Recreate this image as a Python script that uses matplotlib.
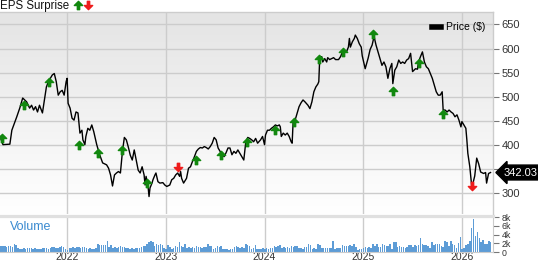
import matplotlib
matplotlib.use('Agg')
import matplotlib.pyplot as plt
import numpy as np
from matplotlib.path import Path
from matplotlib.lines import Line2D
from matplotlib.colors import LinearSegmentedColormap
from matplotlib.transforms import blended_transform_factory

plt.rcParams['font.family'] = ['Liberation Sans', 'DejaVu Sans']

# price (decimal year, $)
price_t = [2021.32, 2021.35, 2021.42, 2021.44, 2021.49, 2021.52, 2021.55, 2021.57, 2021.59, 2021.62,
           2021.64, 2021.66, 2021.68, 2021.70, 2021.72, 2021.75, 2021.77, 2021.79, 2021.81, 2021.83,
           2021.85, 2021.87, 2021.89, 2021.91, 2021.93, 2021.95, 2021.97, 2021.99, 2022.00, 2022.01,
           2022.03, 2022.05, 2022.07, 2022.09, 2022.11, 2022.13, 2022.15, 2022.16, 2022.18, 2022.19,
           2022.21, 2022.23, 2022.25, 2022.27, 2022.30, 2022.33, 2022.36, 2022.40, 2022.42, 2022.44,
           2022.46, 2022.48, 2022.50, 2022.52, 2022.54, 2022.56, 2022.58, 2022.60, 2022.62, 2022.64,
           2022.66, 2022.68, 2022.70, 2022.72, 2022.74, 2022.76, 2022.78, 2022.79, 2022.80, 2022.82,
           2022.83, 2022.84, 2022.86, 2022.87, 2022.89, 2022.90, 2022.92, 2022.94, 2022.97, 2022.99,
           2023.01, 2023.04, 2023.06, 2023.08, 2023.10, 2023.12, 2023.14, 2023.15, 2023.16, 2023.18,
           2023.21, 2023.23, 2023.25, 2023.27, 2023.29, 2023.31, 2023.33, 2023.35, 2023.37, 2023.39,
           2023.41, 2023.43, 2023.45, 2023.47, 2023.49, 2023.51, 2023.53, 2023.55, 2023.57, 2023.59,
           2023.61, 2023.63, 2023.65, 2023.67, 2023.69, 2023.71, 2023.73, 2023.75, 2023.77, 2023.79,
           2023.81, 2023.83, 2023.85, 2023.87, 2023.89, 2023.91, 2023.93, 2023.96, 2023.98, 2024.00,
           2024.01, 2024.03, 2024.05, 2024.07, 2024.09, 2024.11, 2024.13, 2024.15, 2024.16, 2024.17,
           2024.19, 2024.21, 2024.23, 2024.25, 2024.27, 2024.28, 2024.29, 2024.31, 2024.33, 2024.35,
           2024.37, 2024.39, 2024.41, 2024.44, 2024.46, 2024.48, 2024.50, 2024.52, 2024.54, 2024.55,
           2024.56, 2024.58, 2024.59, 2024.61, 2024.63, 2024.64, 2024.66, 2024.68, 2024.70, 2024.72,
           2024.75, 2024.77, 2024.79, 2024.81, 2024.83, 2024.85, 2024.86, 2024.87, 2024.89, 2024.91,
           2024.92, 2024.94, 2024.96, 2024.98, 2024.99, 2025.02, 2025.05, 2025.07, 2025.09, 2025.11,
           2025.13, 2025.15, 2025.17, 2025.19, 2025.21, 2025.23, 2025.25, 2025.27, 2025.29, 2025.30,
           2025.32, 2025.34, 2025.36, 2025.38, 2025.40, 2025.42, 2025.44, 2025.46, 2025.48, 2025.50,
           2025.53, 2025.55, 2025.56, 2025.58, 2025.60, 2025.62, 2025.64, 2025.66, 2025.68, 2025.70,
           2025.72, 2025.74, 2025.76, 2025.78, 2025.80, 2025.81, 2025.83, 2025.85, 2025.87, 2025.89,
           2025.91, 2025.93, 2025.95, 2025.97, 2025.99, 2026.00, 2026.02, 2026.04, 2026.05, 2026.06,
           2026.08, 2026.09, 2026.10, 2026.11, 2026.13, 2026.15, 2026.17, 2026.19, 2026.22, 2026.24,
           2026.25, 2026.27, 2026.29]
price_v = [417, 400, 401, 430, 458, 476, 497, 493, 489, 476,
           482, 472, 479, 468, 482, 466, 493, 520, 531, 538,
           545, 548, 531, 503, 510, 513, 503, 531, 538, 486,
           476, 455, 451, 468, 466, 424, 430, 410, 400, 417,
           434, 430, 441, 427, 400, 379, 362, 358, 351, 337,
           314, 337, 341, 344, 341, 385, 415, 410, 395, 378,
           368, 389, 368, 347, 341, 354, 337, 316, 334, 313,
           292, 310, 320, 327, 337, 341, 323, 320, 321, 316,
           313, 316, 327, 330, 337, 341, 334, 344, 330, 320,
           330, 351, 354, 365, 375, 386, 391, 394, 393, 396,
           394, 391, 396, 403, 415, 410, 393, 386, 382, 375,
           383, 393, 393, 379, 386, 382, 389, 382, 375, 368,
           405, 415, 413, 410, 406, 413, 403, 410, 417, 400,
           420, 430, 430, 434, 437, 441, 439, 441, 437, 417,
           424, 420, 424, 417, 406, 403, 448, 451, 465, 479,
           487, 493, 489, 482, 475, 489, 510, 520, 526, 531,
           583, 583, 572, 579, 572, 581, 577, 579, 581, 577,
           577, 583, 593, 595, 593, 603, 621, 603, 614, 621,
           628, 621, 610, 603, 585, 558, 580, 598, 607, 625,
           607, 593, 579, 565, 572, 562, 538, 558, 569, 527,
           555, 562, 576, 569, 572, 569, 576, 579, 590, 552,
           558, 557, 572, 583, 593, 572, 562, 558, 548, 538,
           524, 510, 503, 503, 510, 472, 472, 468, 472, 468,
           465, 458, 462, 451, 437, 448, 441, 434, 410, 382,
           354, 334, 312, 318, 335, 372, 360, 343, 340, 342,
           320, 340, 342.03]
last_price = 342.03

# EPS surprise arrows (decimal year, price level)
beat_t = [2021.34, 2021.56, 2021.82, 2022.12, 2022.31, 2022.56, 2022.81, 2023.31, 2023.56,
          2023.82, 2024.11, 2024.30, 2024.55, 2024.80, 2025.10, 2025.30, 2025.57, 2025.81]
beat_v = [414, 482, 531, 399, 383, 389, 320, 368, 379,
          406, 430, 448, 579, 593, 630, 512, 570, 464]
miss_t = [2023.12, 2026.10]
miss_v = [354, 314]

# weekly volume (thousands), first week starting 2021.33
vol_start = 2021.33
volume_k = [1.3, 1.4, 1.3, 1.2, 1.3, 1.4, 1.2, 1.8, 1.5,
            0.9, 0.8, 0.8, 0.9, 0.8, 0.9, 1.0, 0.9, 0.8, 0.9, 0.7,
            0.6, 0.8, 0.9, 1.0, 0.9, 0.8, 0.9,
            1.1, 1.2, 0.9, 1.0, 1.2,
            1.3, 1.1, 0.6, 0.5, 1.0,
            1.0, 1.1, 1.0, 1.2, 1.1, 0.9, 1.1, 1.2, 1.0,
            0.8, 0.9, 0.8, 0.7, 0.9,
            1.8, 1.6, 1.7, 1.5, 1.6, 2.5,
            1.2, 1.7, 1.0,
            1.1, 0.9, 1.2, 1.3, 1.1, 1.2,
            0.9, 1.0, 0.8, 0.9, 0.7, 1.0, 0.9, 1.0, 1.1, 1.3,
            1.4, 1.9, 2.2, 2.5, 2.2, 1.4,
            1.8, 1.7, 1.8, 1.6, 0.9,
            0.8, 1.5, 1.2, 0.8,
            0.9, 1.3, 1.2, 2.3,
            1.3, 1.2, 1.9, 1.0,
            1.1, 1.0, 1.2, 1.0, 1.3, 1.1, 1.2, 1.0, 1.1, 1.2,
            1.8, 1.3, 1.4, 0.8, 0.9,
            1.3, 1.2, 1.4, 0.7, 0.6,
            0.6, 0.5, 0.7, 0.6, 1.2,
            1.3, 1.2, 1.0, 1.1, 1.0, 1.9, 1.5, 1.3,
            0.8, 0.9, 1.5, 0.8, 0.7, 0.8, 0.9, 0.8,
            0.9, 0.8, 1.0, 0.9, 1.3, 1.2,
            1.3, 1.5, 1.0, 1.1, 1.0, 1.2, 1.0, 1.3,
            1.2, 1.4, 1.3, 0.9,
            0.9, 0.8, 1.2, 1.1, 1.9,
            1.5, 0.8, 0.9, 0.8, 1.9,
            1.7, 0.9, 1.0, 0.9, 1.0, 0.9, 0.9,
            2.5, 0.8,
            0.9, 1.0, 0.9, 1.5,
            1.3, 1.4, 1.3, 1.7, 1.3, 1.8, 1.2, 0.5, 0.6,
            0.8, 1.0, 1.1, 1.0, 1.2, 1.0,
            1.8, 1.3, 1.8, 1.2,
            1.1, 1.8, 1.5, 1.4, 1.3, 1.8,
            0.8, 2.3, 2.2, 1.2, 1.4,
            1.1, 1.1, 1.0, 1.2, 1.5, 1.5, 1.1,
            1.5, 1.4, 1.6, 3.2, 1.9,
            1.5, 1.5, 1.4, 1.0, 2.3,
            1.6, 1.9, 1.8, 1.9, 1.3, 1.2,
            2.5, 2.4, 1.4, 2.5, 1.8,
            1.7, 1.0, 2.1, 3.5, 0.8,
            1.0, 1.5, 1.8, 2.5,
            5.6, 7.6, 3.6, 4.5,
            3.3, 2.2, 2.8, 1.9, 1.8, 2.5, 2.2]
vol_t = vol_start + np.arange(len(volume_k)) / 52.0

years = [2022, 2023, 2024, 2025, 2026]
price_ticks = [300, 350, 400, 450, 500, 550, 600, 650]
price_labels = ['300', '', '400', '450', '500', '550', '600', '650']
vol_ticks = [0, 2, 4, 6, 8]
vol_labels = ['0', '2k', '4k', '6k', '8k']

x_min, x_max = 2021.32, 2026.315
grid_c = '#cccccc'
green = '#12880f'
red = '#ee1c1c'

W, H = 538, 262
fig = plt.figure(figsize=(W / 100, H / 100), dpi=100)
ax = fig.add_axes([0, 1 - 214 / H, 493 / W, 202 / H])
axv = fig.add_axes([0, 1 - 252 / H, 493 / W, 36 / H])

# background gradient in price panel
cmap = LinearSegmentedColormap.from_list('bg', ['#ffffff', '#e4e4e4'])
ax.imshow(np.linspace(0, 1, 256).reshape(-1, 1), cmap=cmap, aspect='auto',
          extent=[0, 1, 0, 1], transform=ax.transAxes, zorder=0, origin='lower')

ax.plot(price_t, price_v, color='black', lw=1.0, zorder=3, label='Price ($)')

# arrow markers
up = Path([(-0.5, 0.0), (0, 0.5), (0.5, 0.0), (0.14, 0.0), (0.14, -0.5),
           (-0.14, -0.5), (-0.14, 0.0), (-0.5, 0.0)],
          [Path.MOVETO] + [Path.LINETO] * 6 + [Path.CLOSEPOLY])
down = Path([(x, -y) for x, y in up.vertices], up.codes)
ax.plot(beat_t, beat_v, ls='none', marker=up, ms=6, color=green, zorder=4)
ax.plot(miss_t, miss_v, ls='none', marker=down, ms=6, color=red, zorder=4)

ax.set_xlim(x_min, x_max)
ax.set_ylim(255.7, 676)
ax.set_xticks(years)
ax.set_xticklabels([])
ax.tick_params(axis='x', length=0)
ax.yaxis.tick_right()
ax.set_yticks(price_ticks)
ax.set_yticklabels(price_labels)
ax.tick_params(axis='y', length=4, width=0.8, color='#777777', pad=2,
               labelsize=8, labelcolor='#333333')
ax.grid(True, color=grid_c, lw=1.0, zorder=1)
ax.set_axisbelow(True)
for s in ['left', 'bottom']:
    ax.spines[s].set_visible(False)
for s in ['top', 'right']:
    ax.spines[s].set_color(grid_c)
    ax.spines[s].set_linewidth(1.0)

leg = ax.legend(handles=[Line2D([0], [0], color='black', lw=4)], labels=['Price ($)'],
                loc='upper right', bbox_to_anchor=(1.0, 0.985), frameon=False,
                fontsize=7.5, handlelength=0.9, handletextpad=0.5, borderpad=0.2)

# last price tag
blend = blended_transform_factory(ax.transAxes, ax.transData)
ax.text(1.0 + 11 / 493, last_price, '%.2f' % last_price, transform=blend, ha='left',
        va='center', color='white', fontsize=8, zorder=10, clip_on=False,
        bbox=dict(boxstyle='larrow,pad=0.22', fc='black', ec='black'))

# volume panel
axv.bar(vol_t, volume_k, width=0.8 / 52, color='#5d9cd6', edgecolor='none', zorder=2)
axv.set_xlim(x_min, x_max)
axv.set_ylim(0, 8.23)
axv.set_xticks(years)
axv.set_xticklabels([str(y) for y in years])
axv.tick_params(axis='x', length=0, pad=0.3, labelsize=7.5, labelcolor='#333333')
axv.yaxis.tick_right()
axv.set_yticks(vol_ticks)
axv.set_yticklabels(vol_labels)
axv.tick_params(axis='y', length=4, width=0.8, color='#777777', pad=2,
                labelsize=6.3, labelcolor='#333333')
axv.grid(True, axis='x', color=grid_c, lw=1.0, zorder=1)
axv.set_axisbelow(True)
for s in ['left', 'top']:
    axv.spines[s].set_visible(False)
for s in ['bottom', 'right']:
    axv.spines[s].set_color(grid_c)
axv.text(10 / 493, 0.69, 'Volume', transform=axv.transAxes, color='#3a8ad0',
         fontsize=9, va='center', ha='left')

# separator band
fig.add_artist(Line2D([0, 493 / W], [1 - 215.5 / H] * 2, color='#e0e0e0', lw=2.3))

# header
fig.text(0.0, 1 - 5.5 / H, 'EPS Surprise', fontsize=8.3, va='center', ha='left', color='#111111')
fig.add_artist(Line2D([78 / W], [1 - 5 / H], marker=up, ms=6, color=green, ls='none'))
fig.add_artist(Line2D([88 / W], [1 - 5 / H], marker=down, ms=6, color=red, ls='none'))

fig.savefig('out.png', dpi=100)
